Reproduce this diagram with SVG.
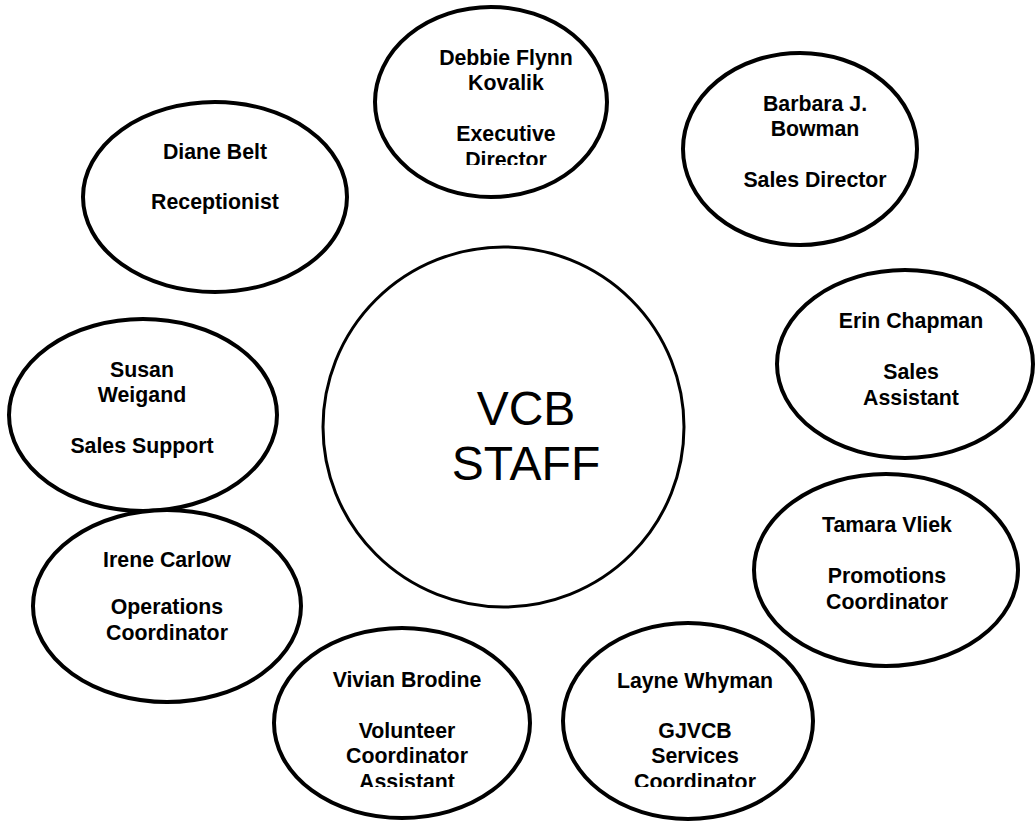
<svg xmlns="http://www.w3.org/2000/svg" width="1036" height="821" viewBox="0 0 1036 821">
  <style>
    .bubble { fill: #ffffff; stroke: #000000; stroke-width: 4; }
    .hub { fill: #ffffff; stroke: #000000; stroke-width: 3; }
    .lbl { font-family: "Liberation Sans", Arial, sans-serif; font-weight: bold; font-size: 21.3px; fill: #000000; text-anchor: middle; }
    .hubtxt { font-family: "Liberation Sans", Arial, sans-serif; font-size: 48px; fill: #000000; text-anchor: middle; }
  </style>
  <defs>
    <!-- text boxes that cut off overflowing lines -->
    <clipPath id="clipDebbie"><rect x="380" y="20" width="230" height="145"/></clipPath>
    <clipPath id="clipVivian"><rect x="280" y="650" width="250" height="137"/></clipPath>
    <clipPath id="clipLayne"><rect x="565" y="650" width="250" height="137"/></clipPath>
  </defs>
  <rect width="1036" height="821" fill="#ffffff"/>

  <g id="connectors"></g>

  <g id="hub">
    <ellipse class="hub" cx="503.5" cy="427" rx="180.5" ry="180"/>
    <text class="hubtxt" x="526" y="425">VCB</text>
    <text class="hubtxt" x="526" y="480">STAFF</text>
  </g>

  <g id="debbie">
    <ellipse class="bubble" cx="491" cy="102" rx="116" ry="95"/>
    <g clip-path="url(#clipDebbie)">
      <text class="lbl" x="506" y="65">Debbie Flynn</text>
      <text class="lbl" x="506" y="90">Kovalik</text>
      <text class="lbl" x="506" y="141">Executive</text>
      <text class="lbl" x="506" y="167">Director</text>
    </g>
  </g>

  <g id="barbara">
    <ellipse class="bubble" cx="800" cy="149" rx="117" ry="96"/>
    <text class="lbl" x="815" y="111">Barbara J.</text>
    <text class="lbl" x="815" y="136">Bowman</text>
    <text class="lbl" x="815" y="187">Sales Director</text>
  </g>

  <g id="diane">
    <ellipse class="bubble" cx="215" cy="197" rx="132" ry="95"/>
    <text class="lbl" x="215" y="159">Diane Belt</text>
    <text class="lbl" x="215" y="209">Receptionist</text>
  </g>

  <g id="erin">
    <ellipse class="bubble" cx="905" cy="364" rx="128" ry="94"/>
    <text class="lbl" x="911" y="328">Erin Chapman</text>
    <text class="lbl" x="911" y="379">Sales</text>
    <text class="lbl" x="911" y="405">Assistant</text>
  </g>

  <g id="susan">
    <ellipse class="bubble" cx="143" cy="415" rx="134" ry="96"/>
    <text class="lbl" x="142" y="377">Susan</text>
    <text class="lbl" x="142" y="402">Weigand</text>
    <text class="lbl" x="142" y="453">Sales Support</text>
  </g>

  <g id="tamara">
    <ellipse class="bubble" cx="886" cy="570" rx="132" ry="96"/>
    <text class="lbl" x="887" y="532">Tamara Vliek</text>
    <text class="lbl" x="887" y="583">Promotions</text>
    <text class="lbl" x="887" y="609">Coordinator</text>
  </g>

  <g id="irene">
    <ellipse class="bubble" cx="167" cy="606" rx="134" ry="96"/>
    <text class="lbl" x="167" y="567">Irene Carlow</text>
    <text class="lbl" x="167" y="614">Operations</text>
    <text class="lbl" x="167" y="640">Coordinator</text>
  </g>

  <g id="vivian">
    <ellipse class="bubble" cx="402" cy="723" rx="128" ry="95"/>
    <g clip-path="url(#clipVivian)">
      <text class="lbl" x="407" y="687">Vivian Brodine</text>
      <text class="lbl" x="407" y="738">Volunteer</text>
      <text class="lbl" x="407" y="763">Coordinator</text>
      <text class="lbl" x="407" y="789">Assistant</text>
    </g>
  </g>

  <g id="layne">
    <ellipse class="bubble" cx="688" cy="721" rx="125" ry="98"/>
    <g clip-path="url(#clipLayne)">
      <text class="lbl" x="695" y="688">Layne Whyman</text>
      <text class="lbl" x="695" y="738">GJVCB</text>
      <text class="lbl" x="695" y="763">Services</text>
      <text class="lbl" x="695" y="789">Coordinator</text>
    </g>
  </g>
</svg>
